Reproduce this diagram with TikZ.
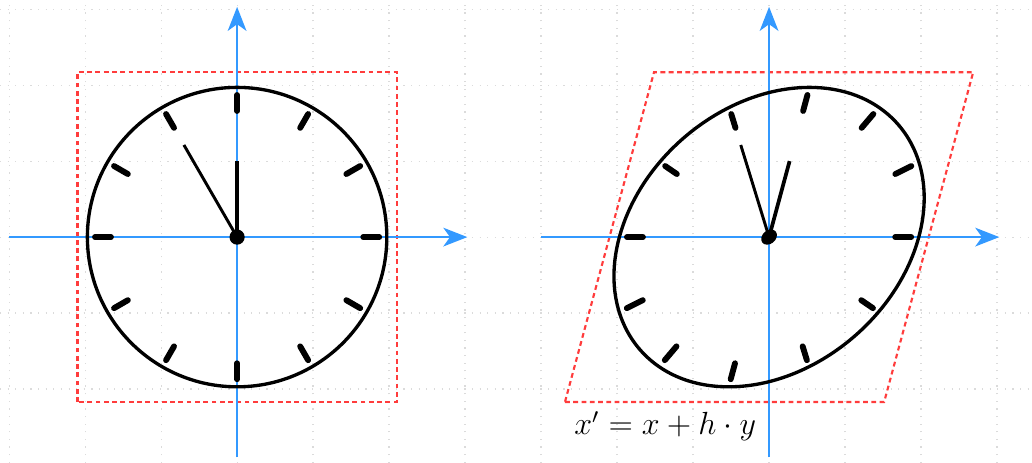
\documentclass[tikz,border=0pt]{standalone}
\usetikzlibrary{arrows.meta}

\definecolor{axisblue}{RGB}{51,153,255}
\definecolor{framered}{RGB}{255,60,60}

\begin{document}
\begin{tikzpicture}[x=1cm, y=1cm,
    gridline/.style={gray!28, line width=0.45pt, dash pattern=on 0.45pt off 2.4pt},
    axis/.style={axisblue, line width=0.8pt, -{Stealth[length=9pt, width=7pt, inset=2.5pt]}},
    frame/.style={framered, line width=0.8pt, dash pattern=on 1.8pt off 1.3pt},
    rim/.style={black, line width=1.25pt},
    tick/.style={black, line width=2.2pt, line cap=round},
    hourhand/.style={black, line width=1.4pt},
    minutehand/.style={black, line width=1.1pt}]

\useasboundingbox (-3.12,-2.97) rectangle (10.46,3.12);

%% ---- Griglia di sfondo ----
\draw[gridline] (-3.12,-2.97) grid (10.46,3.12);

%% ---- Orologio originale (centro in 0,0) ----
\draw[frame] (-2.1,-2.17) rectangle (2.1,2.17);
\draw[axis] (-3,0) -- (3.03,0);
\draw[axis] (0,-2.9) -- (0,3.03);
\draw[rim] (0,0) circle (1.97);
\foreach \a in {0,30,...,330} \draw[tick] (\a:1.66) -- (\a:1.87);
\draw[hourhand] (0,0) -- (90:1.0);
\draw[minutehand] (0,0) -- (120:1.4);
\fill (0,0) circle (0.1);

%% ---- Cornice deformata (centro in 7,0) ----
\begin{scope}[cm={1,0,0.27,1,(7,0)}]
  \draw[frame] (-2.1,-2.17) -- (2.1,-2.17) -- (2.1,2.17) -- (-2.1,2.17) -- cycle;
  \coordinate (shearcorner) at (-2.1,-2.17);
\end{scope}
\draw[axis] (4,0) -- (10.03,0);
\draw[axis] (7,-2.9) -- (7,3.03);

%% ---- Orologio deformato: x' = x + h y ----
\begin{scope}[cm={1,0,0.27,1,(7,0)}]
  \draw[rim] (0,0) circle (1.97);
  \foreach \a in {0,30,...,330} \draw[tick] (\a:1.66) -- (\a:1.87);
  \draw[hourhand] (0,0) -- (90:1.0);
  \draw[minutehand] (0,0) -- (120:1.4);
  \fill (0,0) circle (0.1);
\end{scope}

\node[below right, font=\large] (shearlabel) at (shearcorner) {$x' = x + h \cdot y$};

\end{tikzpicture}
\end{document}
